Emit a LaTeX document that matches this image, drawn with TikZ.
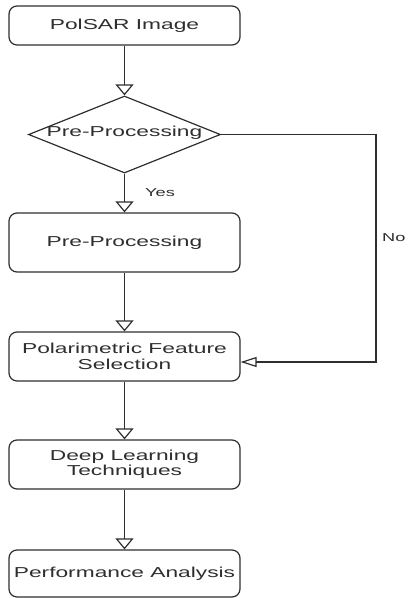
\documentclass[tikz,border=0pt]{standalone}
\usepackage{fontspec}
\setmainfont{Liberation Sans}[FakeStretch=1.58]
\usetikzlibrary{shapes.geometric,arrows.meta}
\definecolor{ink}{HTML}{2E2E2E}
\begin{document}
\begin{tikzpicture}[x=1pt,y=-1pt,
  every node/.style={text=ink},
  box/.style={draw=ink, line width=1.2pt, rounded corners=8pt, minimum width=231pt, inner sep=0pt, align=center, font=\fontsize{14.4}{15.5}\selectfont},
  lbl/.style={font=\fontsize{11.5}{13}\selectfont, inner sep=0pt},
  conn/.style={draw=ink, line width=1.4pt},
  vtip/.style={-{Triangle[open,length=11pt,width=18pt,line width=1.2pt]}},
  htip/.style={-{Triangle[open,length=16pt,width=10pt,line width=1.2pt]}}
]
\path[use as bounding box] (0,0) rectangle (409,598);
\node[box, minimum height=39pt] (b1) at (124.5,25.5) {PolSAR Image};
\node[draw=ink, line width=1.2pt, diamond, shape aspect=2.49, minimum width=192pt, minimum height=77pt, inner sep=0pt] (dia) at (124.5,134.5) {};
\node[font=\fontsize{14.4}{15.5}\selectfont, inner sep=0pt] (diatext) at (124.5,133) {Pre-Processing};
\node[box, minimum height=59pt] (b2) at (124.5,242.5) {Pre-Processing};
\node[box, minimum height=49pt] (b3) at (124.5,356.5) {Polarimetric Feature\\Selection};
\node[box, minimum height=49pt] (b4) at (124.5,464.5) {Deep Learning\\Techniques};
\node[box, minimum height=47pt] (b5) at (124.5,573.5) {Performance Analysis};
\coordinate (nocorner) at (376,362);
\draw[conn, vtip] (b1) -- (dia);
\draw[conn, vtip] (dia) -- (b2);
\draw[conn, vtip] (b2) -- (b3);
\draw[conn, vtip] (b3) -- (b4);
\draw[conn, vtip] (b4) -- (b5);
\draw[conn, htip] (dia.east) -| (nocorner) -- (nocorner -| b3.east);
\node[lbl, anchor=west] (yes) at (145,193) {Yes};
\node[lbl, anchor=west] (no) at (382,238) {No};
\end{tikzpicture}
\end{document}
